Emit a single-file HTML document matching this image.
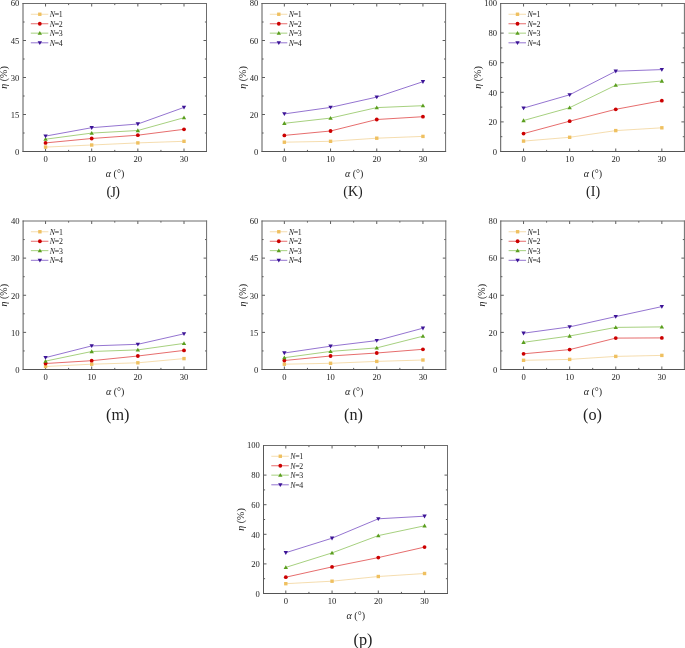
<!DOCTYPE html>
<html><head><meta charset="utf-8"><style>
html,body{margin:0;padding:0;background:#fff;}
body{width:685px;height:648px;overflow:hidden;}
svg{display:block;filter:blur(0.45px);}
text{font-family:"Liberation Serif",serif;fill:#222;}
.t{font-size:8.6px;}
.at{font-size:10px;}
.lg{font-size:7.9px;letter-spacing:-0.3px;}
</style></head><body>
<svg width="685" height="648" viewBox="0 0 685 648">
<path d="M23 114.5h3M206.5 114.5h-3M23 77.5h3M206.5 77.5h-3M23 40.5h3M206.5 40.5h-3M23 133h1.6M206.5 133h-1.6M23 96h1.6M206.5 96h-1.6M23 59h1.6M206.5 59h-1.6M23 22h1.6M206.5 22h-1.6M45.55 151.5v-3M45.55 3.5v3M91.7 151.5v-3M91.7 3.5v3M137.85 151.5v-3M137.85 3.5v3M184 151.5v-3M184 3.5v3M68.62 151.5v-1.6M68.62 3.5v1.6M114.77 151.5v-1.6M114.77 3.5v1.6M160.93 151.5v-1.6M160.93 3.5v1.6" stroke="#333333" stroke-width="0.8" fill="none"/>
<path d="M23 3.5H206.5" stroke="#6c6c6c" stroke-width="1" fill="none" stroke-linecap="square"/>
<path d="M206.5 3.5V151.5" stroke="#6c6c6c" stroke-width="1" fill="none" stroke-linecap="square"/>
<path d="M23 151.5H206.5" stroke="#545454" stroke-width="1" fill="none" stroke-linecap="square"/>
<path d="M23 3.5V151.5" stroke="#585858" stroke-width="1" fill="none" stroke-linecap="square"/>
<text x="19.4" y="154.8" text-anchor="end" class="t">0</text>
<text x="19.4" y="117.8" text-anchor="end" class="t">15</text>
<text x="19.4" y="80.8" text-anchor="end" class="t">30</text>
<text x="19.4" y="43.8" text-anchor="end" class="t">45</text>
<text x="19.4" y="6.1" text-anchor="end" class="t">60</text>
<text x="45.55" y="162.3" text-anchor="middle" class="t">0</text>
<text x="91.7" y="162.3" text-anchor="middle" class="t">10</text>
<text x="137.85" y="162.3" text-anchor="middle" class="t">20</text>
<text x="184" y="162.3" text-anchor="middle" class="t">30</text>
<text x="115.05" y="177.3" text-anchor="middle" class="at"><tspan font-style="italic">&#945;</tspan> (&#176;)</text>
<text transform="translate(7.1 77.5) rotate(-90)" text-anchor="middle" class="at"><tspan font-style="italic">&#951;</tspan> (%)</text>
<polyline points="45.55,147.1 91.7,145 137.85,142.9 184,141.3" stroke="#F3D49A" stroke-width="0.8" fill="none"/>
<rect x="43.85" y="145.4" width="3.4" height="3.4" fill="#EFC060"/>
<rect x="90" y="143.3" width="3.4" height="3.4" fill="#EFC060"/>
<rect x="136.15" y="141.2" width="3.4" height="3.4" fill="#EFC060"/>
<rect x="182.3" y="139.6" width="3.4" height="3.4" fill="#EFC060"/>
<polyline points="45.55,142.9 91.7,138.5 137.85,135.2 184,129.3" stroke="#E04848" stroke-width="0.8" fill="none"/>
<circle cx="45.55" cy="142.9" r="1.9" fill="#CC0000"/>
<circle cx="91.7" cy="138.5" r="1.9" fill="#CC0000"/>
<circle cx="137.85" cy="135.2" r="1.9" fill="#CC0000"/>
<circle cx="184" cy="129.3" r="1.9" fill="#CC0000"/>
<polyline points="45.55,139.2 91.7,133.1 137.85,130.5 184,117.7" stroke="#8FC45E" stroke-width="0.8" fill="none"/>
<path d="M45.55 137L47.75 140.85L43.35 140.85Z" fill="#5A9E1E"/>
<path d="M91.7 130.9L93.9 134.75L89.5 134.75Z" fill="#5A9E1E"/>
<path d="M137.85 128.3L140.05 132.15L135.65 132.15Z" fill="#5A9E1E"/>
<path d="M184 115.5L186.2 119.35L181.8 119.35Z" fill="#5A9E1E"/>
<polyline points="45.55,136.1 91.7,127.7 137.85,124 184,107.4" stroke="#7850C4" stroke-width="0.8" fill="none"/>
<path d="M45.55 138.3L47.75 134.45L43.35 134.45Z" fill="#3C1496"/>
<path d="M91.7 129.9L93.9 126.05L89.5 126.05Z" fill="#3C1496"/>
<path d="M137.85 126.2L140.05 122.35L135.65 122.35Z" fill="#3C1496"/>
<path d="M184 109.6L186.2 105.75L181.8 105.75Z" fill="#3C1496"/>
<path d="M30.8 14.25H48.3" stroke="#F3D49A" stroke-width="0.8"/>
<rect x="38.1" y="12.55" width="3.4" height="3.4" fill="#EFC060"/>
<text x="49.7" y="17.15" class="lg"><tspan font-style="italic">N</tspan>=1</text>
<path d="M30.8 23.75H48.3" stroke="#E04848" stroke-width="0.8"/>
<circle cx="39.8" cy="23.75" r="1.9" fill="#CC0000"/>
<text x="49.7" y="26.65" class="lg"><tspan font-style="italic">N</tspan>=2</text>
<path d="M30.8 33.15H48.3" stroke="#8FC45E" stroke-width="0.8"/>
<path d="M39.8 30.95L42 34.8L37.6 34.8Z" fill="#5A9E1E"/>
<text x="49.7" y="36.05" class="lg"><tspan font-style="italic">N</tspan>=3</text>
<path d="M30.8 42.8H48.3" stroke="#7850C4" stroke-width="0.8"/>
<path d="M39.8 45L42 41.15L37.6 41.15Z" fill="#3C1496"/>
<text x="49.7" y="45.7" class="lg"><tspan font-style="italic">N</tspan>=4</text>
<text x="112.9" y="195.6" text-anchor="middle" class="pl" font-size="14" letter-spacing="-0.7">(<tspan dy="1.3">J</tspan><tspan dy="-1.3">)</tspan></text>
<path d="M262 114.5h3M445.6 114.5h-3M262 77.5h3M445.6 77.5h-3M262 40.5h3M445.6 40.5h-3M262 133h1.6M445.6 133h-1.6M262 96h1.6M445.6 96h-1.6M262 59h1.6M445.6 59h-1.6M262 22h1.6M445.6 22h-1.6M284.35 151.5v-3M284.35 3.5v3M330.55 151.5v-3M330.55 3.5v3M376.75 151.5v-3M376.75 3.5v3M422.95 151.5v-3M422.95 3.5v3M307.45 151.5v-1.6M307.45 3.5v1.6M353.65 151.5v-1.6M353.65 3.5v1.6M399.85 151.5v-1.6M399.85 3.5v1.6" stroke="#333333" stroke-width="0.8" fill="none"/>
<path d="M262 3.5H445.6" stroke="#6c6c6c" stroke-width="1" fill="none" stroke-linecap="square"/>
<path d="M445.6 3.5V151.5" stroke="#6c6c6c" stroke-width="1" fill="none" stroke-linecap="square"/>
<path d="M262 151.5H445.6" stroke="#545454" stroke-width="1" fill="none" stroke-linecap="square"/>
<path d="M262 3.5V151.5" stroke="#585858" stroke-width="1" fill="none" stroke-linecap="square"/>
<text x="258.4" y="154.8" text-anchor="end" class="t">0</text>
<text x="258.4" y="117.8" text-anchor="end" class="t">20</text>
<text x="258.4" y="80.8" text-anchor="end" class="t">40</text>
<text x="258.4" y="43.8" text-anchor="end" class="t">60</text>
<text x="258.4" y="6.1" text-anchor="end" class="t">80</text>
<text x="284.35" y="162.3" text-anchor="middle" class="t">0</text>
<text x="330.55" y="162.3" text-anchor="middle" class="t">10</text>
<text x="376.75" y="162.3" text-anchor="middle" class="t">20</text>
<text x="422.95" y="162.3" text-anchor="middle" class="t">30</text>
<text x="354.1" y="177.3" text-anchor="middle" class="at"><tspan font-style="italic">&#945;</tspan> (&#176;)</text>
<text transform="translate(246.1 77.5) rotate(-90)" text-anchor="middle" class="at"><tspan font-style="italic">&#951;</tspan> (%)</text>
<polyline points="284.35,142.2 330.55,141.3 376.75,138.2 422.95,136.4" stroke="#F3D49A" stroke-width="0.8" fill="none"/>
<rect x="282.65" y="140.5" width="3.4" height="3.4" fill="#EFC060"/>
<rect x="328.85" y="139.6" width="3.4" height="3.4" fill="#EFC060"/>
<rect x="375.05" y="136.5" width="3.4" height="3.4" fill="#EFC060"/>
<rect x="421.25" y="134.7" width="3.4" height="3.4" fill="#EFC060"/>
<polyline points="284.35,135.4 330.55,131 376.75,119.5 422.95,116.7" stroke="#E04848" stroke-width="0.8" fill="none"/>
<circle cx="284.35" cy="135.4" r="1.9" fill="#CC0000"/>
<circle cx="330.55" cy="131" r="1.9" fill="#CC0000"/>
<circle cx="376.75" cy="119.5" r="1.9" fill="#CC0000"/>
<circle cx="422.95" cy="116.7" r="1.9" fill="#CC0000"/>
<polyline points="284.35,123.3 330.55,118.1 376.75,107.6 422.95,105.7" stroke="#8FC45E" stroke-width="0.8" fill="none"/>
<path d="M284.35 121.1L286.55 124.95L282.15 124.95Z" fill="#5A9E1E"/>
<path d="M330.55 115.9L332.75 119.75L328.35 119.75Z" fill="#5A9E1E"/>
<path d="M376.75 105.4L378.95 109.25L374.55 109.25Z" fill="#5A9E1E"/>
<path d="M422.95 103.5L425.15 107.35L420.75 107.35Z" fill="#5A9E1E"/>
<polyline points="284.35,113.9 330.55,107.4 376.75,97.1 422.95,81.7" stroke="#7850C4" stroke-width="0.8" fill="none"/>
<path d="M284.35 116.1L286.55 112.25L282.15 112.25Z" fill="#3C1496"/>
<path d="M330.55 109.6L332.75 105.75L328.35 105.75Z" fill="#3C1496"/>
<path d="M376.75 99.3L378.95 95.45L374.55 95.45Z" fill="#3C1496"/>
<path d="M422.95 83.9L425.15 80.05L420.75 80.05Z" fill="#3C1496"/>
<path d="M269.8 14.25H287.3" stroke="#F3D49A" stroke-width="0.8"/>
<rect x="277.1" y="12.55" width="3.4" height="3.4" fill="#EFC060"/>
<text x="288.7" y="17.15" class="lg"><tspan font-style="italic">N</tspan>=1</text>
<path d="M269.8 23.75H287.3" stroke="#E04848" stroke-width="0.8"/>
<circle cx="278.8" cy="23.75" r="1.9" fill="#CC0000"/>
<text x="288.7" y="26.65" class="lg"><tspan font-style="italic">N</tspan>=2</text>
<path d="M269.8 33.15H287.3" stroke="#8FC45E" stroke-width="0.8"/>
<path d="M278.8 30.95L281 34.8L276.6 34.8Z" fill="#5A9E1E"/>
<text x="288.7" y="36.05" class="lg"><tspan font-style="italic">N</tspan>=3</text>
<path d="M269.8 42.8H287.3" stroke="#7850C4" stroke-width="0.8"/>
<path d="M278.8 45L281 41.15L276.6 41.15Z" fill="#3C1496"/>
<text x="288.7" y="45.7" class="lg"><tspan font-style="italic">N</tspan>=4</text>
<text x="353" y="195.6" text-anchor="middle" class="pl" font-size="14">(K)</text>
<path d="M500.7 121.9h3M684.4 121.9h-3M500.7 92.3h3M684.4 92.3h-3M500.7 62.7h3M684.4 62.7h-3M500.7 33.1h3M684.4 33.1h-3M500.7 136.7h1.6M684.4 136.7h-1.6M500.7 107.1h1.6M684.4 107.1h-1.6M500.7 77.5h1.6M684.4 77.5h-1.6M500.7 47.9h1.6M684.4 47.9h-1.6M523.55 151.5v-3M523.55 3.5v3M569.65 151.5v-3M569.65 3.5v3M615.75 151.5v-3M615.75 3.5v3M661.85 151.5v-3M661.85 3.5v3M546.6 151.5v-1.6M546.6 3.5v1.6M592.7 151.5v-1.6M592.7 3.5v1.6M638.8 151.5v-1.6M638.8 3.5v1.6" stroke="#333333" stroke-width="0.8" fill="none"/>
<path d="M500.7 3.5H684.4" stroke="#6c6c6c" stroke-width="1" fill="none" stroke-linecap="square"/>
<path d="M684.4 3.5V151.5" stroke="#6c6c6c" stroke-width="1" fill="none" stroke-linecap="square"/>
<path d="M500.7 151.5H684.4" stroke="#545454" stroke-width="1" fill="none" stroke-linecap="square"/>
<path d="M500.7 3.5V151.5" stroke="#585858" stroke-width="1" fill="none" stroke-linecap="square"/>
<text x="497.1" y="154.8" text-anchor="end" class="t">0</text>
<text x="497.1" y="125.2" text-anchor="end" class="t">20</text>
<text x="497.1" y="95.6" text-anchor="end" class="t">40</text>
<text x="497.1" y="66" text-anchor="end" class="t">60</text>
<text x="497.1" y="36.4" text-anchor="end" class="t">80</text>
<text x="497.1" y="6.1" text-anchor="end" class="t">100</text>
<text x="523.55" y="162.3" text-anchor="middle" class="t">0</text>
<text x="569.65" y="162.3" text-anchor="middle" class="t">10</text>
<text x="615.75" y="162.3" text-anchor="middle" class="t">20</text>
<text x="661.85" y="162.3" text-anchor="middle" class="t">30</text>
<text x="592.85" y="177.3" text-anchor="middle" class="at"><tspan font-style="italic">&#945;</tspan> (&#176;)</text>
<text transform="translate(480.7 77.5) rotate(-90)" text-anchor="middle" class="at"><tspan font-style="italic">&#951;</tspan> (%)</text>
<polyline points="523.55,141.1 569.65,137.3 615.75,130.6 661.85,127.8" stroke="#F3D49A" stroke-width="0.8" fill="none"/>
<rect x="521.85" y="139.4" width="3.4" height="3.4" fill="#EFC060"/>
<rect x="567.95" y="135.6" width="3.4" height="3.4" fill="#EFC060"/>
<rect x="614.05" y="128.9" width="3.4" height="3.4" fill="#EFC060"/>
<rect x="660.15" y="126.1" width="3.4" height="3.4" fill="#EFC060"/>
<polyline points="523.55,133.6 569.65,121.2 615.75,109.3 661.85,100.7" stroke="#E04848" stroke-width="0.8" fill="none"/>
<circle cx="523.55" cy="133.6" r="1.9" fill="#CC0000"/>
<circle cx="569.65" cy="121.2" r="1.9" fill="#CC0000"/>
<circle cx="615.75" cy="109.3" r="1.9" fill="#CC0000"/>
<circle cx="661.85" cy="100.7" r="1.9" fill="#CC0000"/>
<polyline points="523.55,120.5 569.65,107.7 615.75,85.2 661.85,81" stroke="#8FC45E" stroke-width="0.8" fill="none"/>
<path d="M523.55 118.3L525.75 122.15L521.35 122.15Z" fill="#5A9E1E"/>
<path d="M569.65 105.5L571.85 109.35L567.45 109.35Z" fill="#5A9E1E"/>
<path d="M615.75 83L617.95 86.85L613.55 86.85Z" fill="#5A9E1E"/>
<path d="M661.85 78.8L664.05 82.65L659.65 82.65Z" fill="#5A9E1E"/>
<polyline points="523.55,108.1 569.65,94.8 615.75,71.2 661.85,69.6" stroke="#7850C4" stroke-width="0.8" fill="none"/>
<path d="M523.55 110.3L525.75 106.45L521.35 106.45Z" fill="#3C1496"/>
<path d="M569.65 97L571.85 93.15L567.45 93.15Z" fill="#3C1496"/>
<path d="M615.75 73.4L617.95 69.55L613.55 69.55Z" fill="#3C1496"/>
<path d="M661.85 71.8L664.05 67.95L659.65 67.95Z" fill="#3C1496"/>
<path d="M508.5 14.25H526" stroke="#F3D49A" stroke-width="0.8"/>
<rect x="515.8" y="12.55" width="3.4" height="3.4" fill="#EFC060"/>
<text x="527.4" y="17.15" class="lg"><tspan font-style="italic">N</tspan>=1</text>
<path d="M508.5 23.75H526" stroke="#E04848" stroke-width="0.8"/>
<circle cx="517.5" cy="23.75" r="1.9" fill="#CC0000"/>
<text x="527.4" y="26.65" class="lg"><tspan font-style="italic">N</tspan>=2</text>
<path d="M508.5 33.15H526" stroke="#8FC45E" stroke-width="0.8"/>
<path d="M517.5 30.95L519.7 34.8L515.3 34.8Z" fill="#5A9E1E"/>
<text x="527.4" y="36.05" class="lg"><tspan font-style="italic">N</tspan>=3</text>
<path d="M508.5 42.8H526" stroke="#7850C4" stroke-width="0.8"/>
<path d="M517.5 45L519.7 41.15L515.3 41.15Z" fill="#3C1496"/>
<text x="527.4" y="45.7" class="lg"><tspan font-style="italic">N</tspan>=4</text>
<text x="593.1" y="195.6" text-anchor="middle" class="pl" font-size="14">(<tspan>I</tspan>)</text>
<path d="M23.1 332.38h3M206.6 332.38h-3M23.1 295.25h3M206.6 295.25h-3M23.1 258.12h3M206.6 258.12h-3M23.1 350.94h1.6M206.6 350.94h-1.6M23.1 313.81h1.6M206.6 313.81h-1.6M23.1 276.69h1.6M206.6 276.69h-1.6M23.1 239.56h1.6M206.6 239.56h-1.6M45.55 369.5v-3M45.55 221v3M91.7 369.5v-3M91.7 221v3M137.85 369.5v-3M137.85 221v3M184 369.5v-3M184 221v3M68.62 369.5v-1.6M68.62 221v1.6M114.77 369.5v-1.6M114.77 221v1.6M160.93 369.5v-1.6M160.93 221v1.6" stroke="#333333" stroke-width="0.8" fill="none"/>
<path d="M23.1 221H206.6" stroke="#6c6c6c" stroke-width="1" fill="none" stroke-linecap="square"/>
<path d="M206.6 221V369.5" stroke="#6c6c6c" stroke-width="1" fill="none" stroke-linecap="square"/>
<path d="M23.1 369.5H206.6" stroke="#545454" stroke-width="1" fill="none" stroke-linecap="square"/>
<path d="M23.1 221V369.5" stroke="#585858" stroke-width="1" fill="none" stroke-linecap="square"/>
<text x="19.5" y="372.8" text-anchor="end" class="t">0</text>
<text x="19.5" y="335.68" text-anchor="end" class="t">10</text>
<text x="19.5" y="298.55" text-anchor="end" class="t">20</text>
<text x="19.5" y="261.43" text-anchor="end" class="t">30</text>
<text x="19.5" y="223.6" text-anchor="end" class="t">40</text>
<text x="45.55" y="380.3" text-anchor="middle" class="t">0</text>
<text x="91.7" y="380.3" text-anchor="middle" class="t">10</text>
<text x="137.85" y="380.3" text-anchor="middle" class="t">20</text>
<text x="184" y="380.3" text-anchor="middle" class="t">30</text>
<text x="115.15" y="395.3" text-anchor="middle" class="at"><tspan font-style="italic">&#945;</tspan> (&#176;)</text>
<text transform="translate(7.2 295.25) rotate(-90)" text-anchor="middle" class="at"><tspan font-style="italic">&#951;</tspan> (%)</text>
<polyline points="45.55,366.5 91.7,364.2 137.85,362.8 184,358.6" stroke="#F3D49A" stroke-width="0.8" fill="none"/>
<rect x="43.85" y="364.8" width="3.4" height="3.4" fill="#EFC060"/>
<rect x="90" y="362.5" width="3.4" height="3.4" fill="#EFC060"/>
<rect x="136.15" y="361.1" width="3.4" height="3.4" fill="#EFC060"/>
<rect x="182.3" y="356.9" width="3.4" height="3.4" fill="#EFC060"/>
<polyline points="45.55,363.5 91.7,360.7 137.85,356 184,350.4" stroke="#E04848" stroke-width="0.8" fill="none"/>
<circle cx="45.55" cy="363.5" r="1.9" fill="#CC0000"/>
<circle cx="91.7" cy="360.7" r="1.9" fill="#CC0000"/>
<circle cx="137.85" cy="356" r="1.9" fill="#CC0000"/>
<circle cx="184" cy="350.4" r="1.9" fill="#CC0000"/>
<polyline points="45.55,361.1 91.7,351.5 137.85,349.9 184,343.4" stroke="#8FC45E" stroke-width="0.8" fill="none"/>
<path d="M45.55 358.9L47.75 362.75L43.35 362.75Z" fill="#5A9E1E"/>
<path d="M91.7 349.3L93.9 353.15L89.5 353.15Z" fill="#5A9E1E"/>
<path d="M137.85 347.7L140.05 351.55L135.65 351.55Z" fill="#5A9E1E"/>
<path d="M184 341.2L186.2 345.05L181.8 345.05Z" fill="#5A9E1E"/>
<polyline points="45.55,357.6 91.7,345.9 137.85,344.3 184,333.8" stroke="#7850C4" stroke-width="0.8" fill="none"/>
<path d="M45.55 359.8L47.75 355.95L43.35 355.95Z" fill="#3C1496"/>
<path d="M91.7 348.1L93.9 344.25L89.5 344.25Z" fill="#3C1496"/>
<path d="M137.85 346.5L140.05 342.65L135.65 342.65Z" fill="#3C1496"/>
<path d="M184 336L186.2 332.15L181.8 332.15Z" fill="#3C1496"/>
<path d="M30.9 231.75H48.4" stroke="#F3D49A" stroke-width="0.8"/>
<rect x="38.2" y="230.05" width="3.4" height="3.4" fill="#EFC060"/>
<text x="49.8" y="234.65" class="lg"><tspan font-style="italic">N</tspan>=1</text>
<path d="M30.9 241.25H48.4" stroke="#E04848" stroke-width="0.8"/>
<circle cx="39.9" cy="241.25" r="1.9" fill="#CC0000"/>
<text x="49.8" y="244.15" class="lg"><tspan font-style="italic">N</tspan>=2</text>
<path d="M30.9 250.65H48.4" stroke="#8FC45E" stroke-width="0.8"/>
<path d="M39.9 248.45L42.1 252.3L37.7 252.3Z" fill="#5A9E1E"/>
<text x="49.8" y="253.55" class="lg"><tspan font-style="italic">N</tspan>=3</text>
<path d="M30.9 260.3H48.4" stroke="#7850C4" stroke-width="0.8"/>
<path d="M39.9 262.5L42.1 258.65L37.7 258.65Z" fill="#3C1496"/>
<text x="49.8" y="263.2" class="lg"><tspan font-style="italic">N</tspan>=4</text>
<text x="117.8" y="419.7" text-anchor="middle" class="pl" font-size="16.2">(m)</text>
<path d="M262 332.38h3M445.8 332.38h-3M262 295.25h3M445.8 295.25h-3M262 258.12h3M445.8 258.12h-3M262 350.94h1.6M445.8 350.94h-1.6M262 313.81h1.6M445.8 313.81h-1.6M262 276.69h1.6M445.8 276.69h-1.6M262 239.56h1.6M445.8 239.56h-1.6M284.35 369.5v-3M284.35 221v3M330.55 369.5v-3M330.55 221v3M376.75 369.5v-3M376.75 221v3M422.95 369.5v-3M422.95 221v3M307.45 369.5v-1.6M307.45 221v1.6M353.65 369.5v-1.6M353.65 221v1.6M399.85 369.5v-1.6M399.85 221v1.6" stroke="#333333" stroke-width="0.8" fill="none"/>
<path d="M262 221H445.8" stroke="#6c6c6c" stroke-width="1" fill="none" stroke-linecap="square"/>
<path d="M445.8 221V369.5" stroke="#6c6c6c" stroke-width="1" fill="none" stroke-linecap="square"/>
<path d="M262 369.5H445.8" stroke="#545454" stroke-width="1" fill="none" stroke-linecap="square"/>
<path d="M262 221V369.5" stroke="#585858" stroke-width="1" fill="none" stroke-linecap="square"/>
<text x="258.4" y="372.8" text-anchor="end" class="t">0</text>
<text x="258.4" y="335.68" text-anchor="end" class="t">15</text>
<text x="258.4" y="298.55" text-anchor="end" class="t">30</text>
<text x="258.4" y="261.43" text-anchor="end" class="t">45</text>
<text x="258.4" y="223.6" text-anchor="end" class="t">60</text>
<text x="284.35" y="380.3" text-anchor="middle" class="t">0</text>
<text x="330.55" y="380.3" text-anchor="middle" class="t">10</text>
<text x="376.75" y="380.3" text-anchor="middle" class="t">20</text>
<text x="422.95" y="380.3" text-anchor="middle" class="t">30</text>
<text x="354.2" y="395.3" text-anchor="middle" class="at"><tspan font-style="italic">&#945;</tspan> (&#176;)</text>
<text transform="translate(246.1 295.25) rotate(-90)" text-anchor="middle" class="at"><tspan font-style="italic">&#951;</tspan> (%)</text>
<polyline points="284.35,364.2 330.55,363.3 376.75,361.4 422.95,360" stroke="#F3D49A" stroke-width="0.8" fill="none"/>
<rect x="282.65" y="362.5" width="3.4" height="3.4" fill="#EFC060"/>
<rect x="328.85" y="361.6" width="3.4" height="3.4" fill="#EFC060"/>
<rect x="375.05" y="359.7" width="3.4" height="3.4" fill="#EFC060"/>
<rect x="421.25" y="358.3" width="3.4" height="3.4" fill="#EFC060"/>
<polyline points="284.35,360.5 330.55,356 376.75,353 422.95,349.3" stroke="#E04848" stroke-width="0.8" fill="none"/>
<circle cx="284.35" cy="360.5" r="1.9" fill="#CC0000"/>
<circle cx="330.55" cy="356" r="1.9" fill="#CC0000"/>
<circle cx="376.75" cy="353" r="1.9" fill="#CC0000"/>
<circle cx="422.95" cy="349.3" r="1.9" fill="#CC0000"/>
<polyline points="284.35,357.7 330.55,351.4 376.75,347.9 422.95,336.2" stroke="#8FC45E" stroke-width="0.8" fill="none"/>
<path d="M284.35 355.5L286.55 359.35L282.15 359.35Z" fill="#5A9E1E"/>
<path d="M330.55 349.2L332.75 353.05L328.35 353.05Z" fill="#5A9E1E"/>
<path d="M376.75 345.7L378.95 349.55L374.55 349.55Z" fill="#5A9E1E"/>
<path d="M422.95 334L425.15 337.85L420.75 337.85Z" fill="#5A9E1E"/>
<polyline points="284.35,353 330.55,346.2 376.75,340.6 422.95,328.2" stroke="#7850C4" stroke-width="0.8" fill="none"/>
<path d="M284.35 355.2L286.55 351.35L282.15 351.35Z" fill="#3C1496"/>
<path d="M330.55 348.4L332.75 344.55L328.35 344.55Z" fill="#3C1496"/>
<path d="M376.75 342.8L378.95 338.95L374.55 338.95Z" fill="#3C1496"/>
<path d="M422.95 330.4L425.15 326.55L420.75 326.55Z" fill="#3C1496"/>
<path d="M269.8 231.75H287.3" stroke="#F3D49A" stroke-width="0.8"/>
<rect x="277.1" y="230.05" width="3.4" height="3.4" fill="#EFC060"/>
<text x="288.7" y="234.65" class="lg"><tspan font-style="italic">N</tspan>=1</text>
<path d="M269.8 241.25H287.3" stroke="#E04848" stroke-width="0.8"/>
<circle cx="278.8" cy="241.25" r="1.9" fill="#CC0000"/>
<text x="288.7" y="244.15" class="lg"><tspan font-style="italic">N</tspan>=2</text>
<path d="M269.8 250.65H287.3" stroke="#8FC45E" stroke-width="0.8"/>
<path d="M278.8 248.45L281 252.3L276.6 252.3Z" fill="#5A9E1E"/>
<text x="288.7" y="253.55" class="lg"><tspan font-style="italic">N</tspan>=3</text>
<path d="M269.8 260.3H287.3" stroke="#7850C4" stroke-width="0.8"/>
<path d="M278.8 262.5L281 258.65L276.6 258.65Z" fill="#3C1496"/>
<text x="288.7" y="263.2" class="lg"><tspan font-style="italic">N</tspan>=4</text>
<text x="353.5" y="419.7" text-anchor="middle" class="pl" font-size="16.2">(n)</text>
<path d="M500.8 332.38h3M684.4 332.38h-3M500.8 295.25h3M684.4 295.25h-3M500.8 258.12h3M684.4 258.12h-3M500.8 350.94h1.6M684.4 350.94h-1.6M500.8 313.81h1.6M684.4 313.81h-1.6M500.8 276.69h1.6M684.4 276.69h-1.6M500.8 239.56h1.6M684.4 239.56h-1.6M523.55 369.5v-3M523.55 221v3M569.65 369.5v-3M569.65 221v3M615.75 369.5v-3M615.75 221v3M661.85 369.5v-3M661.85 221v3M546.6 369.5v-1.6M546.6 221v1.6M592.7 369.5v-1.6M592.7 221v1.6M638.8 369.5v-1.6M638.8 221v1.6" stroke="#333333" stroke-width="0.8" fill="none"/>
<path d="M500.8 221H684.4" stroke="#6c6c6c" stroke-width="1" fill="none" stroke-linecap="square"/>
<path d="M684.4 221V369.5" stroke="#6c6c6c" stroke-width="1" fill="none" stroke-linecap="square"/>
<path d="M500.8 369.5H684.4" stroke="#545454" stroke-width="1" fill="none" stroke-linecap="square"/>
<path d="M500.8 221V369.5" stroke="#585858" stroke-width="1" fill="none" stroke-linecap="square"/>
<text x="497.2" y="372.8" text-anchor="end" class="t">0</text>
<text x="497.2" y="335.68" text-anchor="end" class="t">20</text>
<text x="497.2" y="298.55" text-anchor="end" class="t">40</text>
<text x="497.2" y="261.43" text-anchor="end" class="t">60</text>
<text x="497.2" y="223.6" text-anchor="end" class="t">80</text>
<text x="523.55" y="380.3" text-anchor="middle" class="t">0</text>
<text x="569.65" y="380.3" text-anchor="middle" class="t">10</text>
<text x="615.75" y="380.3" text-anchor="middle" class="t">20</text>
<text x="661.85" y="380.3" text-anchor="middle" class="t">30</text>
<text x="592.9" y="395.3" text-anchor="middle" class="at"><tspan font-style="italic">&#945;</tspan> (&#176;)</text>
<text transform="translate(484.9 295.25) rotate(-90)" text-anchor="middle" class="at"><tspan font-style="italic">&#951;</tspan> (%)</text>
<polyline points="523.55,360.3 569.65,359.4 615.75,356.4 661.85,355.4" stroke="#F3D49A" stroke-width="0.8" fill="none"/>
<rect x="521.85" y="358.6" width="3.4" height="3.4" fill="#EFC060"/>
<rect x="567.95" y="357.7" width="3.4" height="3.4" fill="#EFC060"/>
<rect x="614.05" y="354.7" width="3.4" height="3.4" fill="#EFC060"/>
<rect x="660.15" y="353.7" width="3.4" height="3.4" fill="#EFC060"/>
<polyline points="523.55,353.8 569.65,349.6 615.75,338.1 661.85,337.9" stroke="#E04848" stroke-width="0.8" fill="none"/>
<circle cx="523.55" cy="353.8" r="1.9" fill="#CC0000"/>
<circle cx="569.65" cy="349.6" r="1.9" fill="#CC0000"/>
<circle cx="615.75" cy="338.1" r="1.9" fill="#CC0000"/>
<circle cx="661.85" cy="337.9" r="1.9" fill="#CC0000"/>
<polyline points="523.55,342.3 569.65,336 615.75,327.4 661.85,326.9" stroke="#8FC45E" stroke-width="0.8" fill="none"/>
<path d="M523.55 340.1L525.75 343.95L521.35 343.95Z" fill="#5A9E1E"/>
<path d="M569.65 333.8L571.85 337.65L567.45 337.65Z" fill="#5A9E1E"/>
<path d="M615.75 325.2L617.95 329.05L613.55 329.05Z" fill="#5A9E1E"/>
<path d="M661.85 324.7L664.05 328.55L659.65 328.55Z" fill="#5A9E1E"/>
<polyline points="523.55,333.2 569.65,326.9 615.75,316.6 661.85,306.6" stroke="#7850C4" stroke-width="0.8" fill="none"/>
<path d="M523.55 335.4L525.75 331.55L521.35 331.55Z" fill="#3C1496"/>
<path d="M569.65 329.1L571.85 325.25L567.45 325.25Z" fill="#3C1496"/>
<path d="M615.75 318.8L617.95 314.95L613.55 314.95Z" fill="#3C1496"/>
<path d="M661.85 308.8L664.05 304.95L659.65 304.95Z" fill="#3C1496"/>
<path d="M508.6 231.75H526.1" stroke="#F3D49A" stroke-width="0.8"/>
<rect x="515.9" y="230.05" width="3.4" height="3.4" fill="#EFC060"/>
<text x="527.5" y="234.65" class="lg"><tspan font-style="italic">N</tspan>=1</text>
<path d="M508.6 241.25H526.1" stroke="#E04848" stroke-width="0.8"/>
<circle cx="517.6" cy="241.25" r="1.9" fill="#CC0000"/>
<text x="527.5" y="244.15" class="lg"><tspan font-style="italic">N</tspan>=2</text>
<path d="M508.6 250.65H526.1" stroke="#8FC45E" stroke-width="0.8"/>
<path d="M517.6 248.45L519.8 252.3L515.4 252.3Z" fill="#5A9E1E"/>
<text x="527.5" y="253.55" class="lg"><tspan font-style="italic">N</tspan>=3</text>
<path d="M508.6 260.3H526.1" stroke="#7850C4" stroke-width="0.8"/>
<path d="M517.6 262.5L519.8 258.65L515.4 258.65Z" fill="#3C1496"/>
<text x="527.5" y="263.2" class="lg"><tspan font-style="italic">N</tspan>=4</text>
<text x="592.5" y="419.7" text-anchor="middle" class="pl" font-size="16.2">(o)</text>
<path d="M263.5 563.9h3M447.5 563.9h-3M263.5 534.3h3M447.5 534.3h-3M263.5 504.7h3M447.5 504.7h-3M263.5 475.1h3M447.5 475.1h-3M263.5 578.7h1.6M447.5 578.7h-1.6M263.5 549.1h1.6M447.5 549.1h-1.6M263.5 519.5h1.6M447.5 519.5h-1.6M263.5 489.9h1.6M447.5 489.9h-1.6M285.8 593.5v-3M285.8 445.5v3M332.05 593.5v-3M332.05 445.5v3M378.3 593.5v-3M378.3 445.5v3M424.55 593.5v-3M424.55 445.5v3M308.93 593.5v-1.6M308.93 445.5v1.6M355.18 593.5v-1.6M355.18 445.5v1.6M401.43 593.5v-1.6M401.43 445.5v1.6" stroke="#333333" stroke-width="0.8" fill="none"/>
<path d="M263.5 445.5H447.5" stroke="#6c6c6c" stroke-width="1" fill="none" stroke-linecap="square"/>
<path d="M447.5 445.5V593.5" stroke="#6c6c6c" stroke-width="1" fill="none" stroke-linecap="square"/>
<path d="M263.5 593.5H447.5" stroke="#545454" stroke-width="1" fill="none" stroke-linecap="square"/>
<path d="M263.5 445.5V593.5" stroke="#585858" stroke-width="1" fill="none" stroke-linecap="square"/>
<text x="259.9" y="596.8" text-anchor="end" class="t">0</text>
<text x="259.9" y="567.2" text-anchor="end" class="t">20</text>
<text x="259.9" y="537.6" text-anchor="end" class="t">40</text>
<text x="259.9" y="508" text-anchor="end" class="t">60</text>
<text x="259.9" y="478.4" text-anchor="end" class="t">80</text>
<text x="259.9" y="448.1" text-anchor="end" class="t">100</text>
<text x="285.8" y="604.3" text-anchor="middle" class="t">0</text>
<text x="332.05" y="604.3" text-anchor="middle" class="t">10</text>
<text x="378.3" y="604.3" text-anchor="middle" class="t">20</text>
<text x="424.55" y="604.3" text-anchor="middle" class="t">30</text>
<text x="355.8" y="619.3" text-anchor="middle" class="at"><tspan font-style="italic">&#945;</tspan> (&#176;)</text>
<text transform="translate(243.5 519.5) rotate(-90)" text-anchor="middle" class="at"><tspan font-style="italic">&#951;</tspan> (%)</text>
<polyline points="285.8,583.7 332.05,581.2 378.3,576.5 424.55,573.5" stroke="#F3D49A" stroke-width="0.8" fill="none"/>
<rect x="284.1" y="582" width="3.4" height="3.4" fill="#EFC060"/>
<rect x="330.35" y="579.5" width="3.4" height="3.4" fill="#EFC060"/>
<rect x="376.6" y="574.8" width="3.4" height="3.4" fill="#EFC060"/>
<rect x="422.85" y="571.8" width="3.4" height="3.4" fill="#EFC060"/>
<polyline points="285.8,577.2 332.05,566.9 378.3,557.6 424.55,547.1" stroke="#E04848" stroke-width="0.8" fill="none"/>
<circle cx="285.8" cy="577.2" r="1.9" fill="#CC0000"/>
<circle cx="332.05" cy="566.9" r="1.9" fill="#CC0000"/>
<circle cx="378.3" cy="557.6" r="1.9" fill="#CC0000"/>
<circle cx="424.55" cy="547.1" r="1.9" fill="#CC0000"/>
<polyline points="285.8,567.4 332.05,552.9 378.3,535.6 424.55,525.8" stroke="#8FC45E" stroke-width="0.8" fill="none"/>
<path d="M285.8 565.2L288 569.05L283.6 569.05Z" fill="#5A9E1E"/>
<path d="M332.05 550.7L334.25 554.55L329.85 554.55Z" fill="#5A9E1E"/>
<path d="M378.3 533.4L380.5 537.25L376.1 537.25Z" fill="#5A9E1E"/>
<path d="M424.55 523.6L426.75 527.45L422.35 527.45Z" fill="#5A9E1E"/>
<polyline points="285.8,552.7 332.05,538.2 378.3,518.8 424.55,516.2" stroke="#7850C4" stroke-width="0.8" fill="none"/>
<path d="M285.8 554.9L288 551.05L283.6 551.05Z" fill="#3C1496"/>
<path d="M332.05 540.4L334.25 536.55L329.85 536.55Z" fill="#3C1496"/>
<path d="M378.3 521L380.5 517.15L376.1 517.15Z" fill="#3C1496"/>
<path d="M424.55 518.4L426.75 514.55L422.35 514.55Z" fill="#3C1496"/>
<path d="M271.3 456.25H288.8" stroke="#F3D49A" stroke-width="0.8"/>
<rect x="278.6" y="454.55" width="3.4" height="3.4" fill="#EFC060"/>
<text x="290.2" y="459.15" class="lg"><tspan font-style="italic">N</tspan>=1</text>
<path d="M271.3 465.75H288.8" stroke="#E04848" stroke-width="0.8"/>
<circle cx="280.3" cy="465.75" r="1.9" fill="#CC0000"/>
<text x="290.2" y="468.65" class="lg"><tspan font-style="italic">N</tspan>=2</text>
<path d="M271.3 475.15H288.8" stroke="#8FC45E" stroke-width="0.8"/>
<path d="M280.3 472.95L282.5 476.8L278.1 476.8Z" fill="#5A9E1E"/>
<text x="290.2" y="478.05" class="lg"><tspan font-style="italic">N</tspan>=3</text>
<path d="M271.3 484.8H288.8" stroke="#7850C4" stroke-width="0.8"/>
<path d="M280.3 487L282.5 483.15L278.1 483.15Z" fill="#3C1496"/>
<text x="290.2" y="487.7" class="lg"><tspan font-style="italic">N</tspan>=4</text>
<text x="363" y="644.7" text-anchor="middle" class="pl" font-size="16.2">(p)</text>
</svg>
</body></html>
